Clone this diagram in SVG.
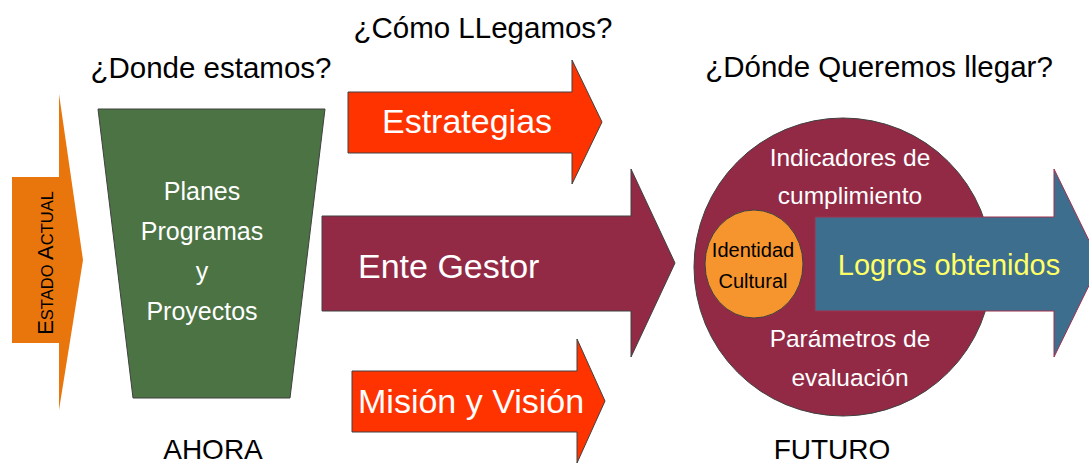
<svg xmlns="http://www.w3.org/2000/svg" width="1089" height="464" viewBox="0 0 1089 464">
<style>
text{font-family:"Liberation Sans",Arial,sans-serif}
.q{font-size:29.5px;fill:#000}
.b{font-size:28px;fill:#000}
.ol{stroke:#404040;stroke-width:1}
</style>
<rect width="1089" height="464" fill="#fff"/>
<g id="labels">
<text class="q" x="483" y="38" text-anchor="middle">¿Cómo LLegamos?</text>
<text class="q" x="211" y="78" text-anchor="middle">¿Donde estamos?</text>
<text class="q" x="879" y="77" text-anchor="middle">¿Dónde Queremos llegar?</text>
<text class="b" x="213" y="459" text-anchor="middle">AHORA</text>
<text class="b" x="832" y="459" text-anchor="middle">FUTURO</text>
</g>
<g id="estado-actual">
<path d="M12,177 H59 V94 L83,260 L59,410 V343 H12 Z" fill="#E9760C"/>
<text transform="translate(53,263) rotate(-90)" text-anchor="middle" fill="#000"><tspan font-size="22">E</tspan><tspan font-size="16.5">STADO </tspan><tspan font-size="22">A</tspan><tspan font-size="16.5">CTUAL</tspan></text>
</g>
<g id="planes">
<path d="M98,109 H325 L290,398 H133 Z" fill="#4B7343" class="ol"/>
<g font-size="25" text-anchor="middle">
<text x="202" y="200" fill="#fff">Planes</text>
<text x="202" y="240" fill="#fff">Programas</text>
<text x="202" y="280" fill="#fff">y</text>
<text x="202" y="320" fill="#fff">Proyectos</text>
</g>
</g>
<g id="connectors">
<g id="estrategias">
<path d="M348,92 H572 V60 L602,122 L572,184 V153 H348 Z" fill="#FF3300" class="ol"/>
<text x="467" y="133" font-size="34" fill="#fff" text-anchor="middle">Estrategias</text>
</g>
<g id="ente-gestor">
<path d="M322,216 H631 V169 L675,263 L631,357 V311 H322 Z" fill="#922A46" class="ol"/>
<text x="358" y="278" font-size="34" fill="#fff">Ente Gestor</text>
</g>
<g id="mision-vision">
<path d="M352,371 H577 V339 L605,401 L577,463 V432 H352 Z" fill="#FF3300" class="ol"/>
<text x="358" y="413" font-size="34" fill="#fff">Misión y Visión</text>
</g>
</g>
<g id="futuro">
<circle cx="843" cy="267" r="149" fill="#922A46" class="ol"/>
<g font-size="24.5" text-anchor="middle">
<text x="850" y="166" fill="#fff">Indicadores de</text>
<text x="850" y="204" fill="#fff">cumplimiento</text>
<text x="850" y="347" fill="#fff">Parámetros de</text>
<text x="850" y="386" fill="#fff">evaluación</text>
</g>
</g>
<g id="identidad">
<ellipse cx="754" cy="264" rx="49" ry="54" fill="#F6952E" class="ol"/>
<text x="753" y="257" font-size="20" text-anchor="middle" fill="#000">Identidad</text>
<text x="753" y="288" font-size="20" text-anchor="middle" fill="#000">Cultural</text>
</g>
<g id="logros">
<path d="M815,217 H1054 V169 L1100,263 L1054,357 V311 H815 Z" fill="#3E6E8E" stroke="#A0304F" stroke-width="1"/>
<text x="949" y="275" font-size="29" text-anchor="middle" fill="#FFFF66">Logros obtenidos</text>
</g>
</svg>
